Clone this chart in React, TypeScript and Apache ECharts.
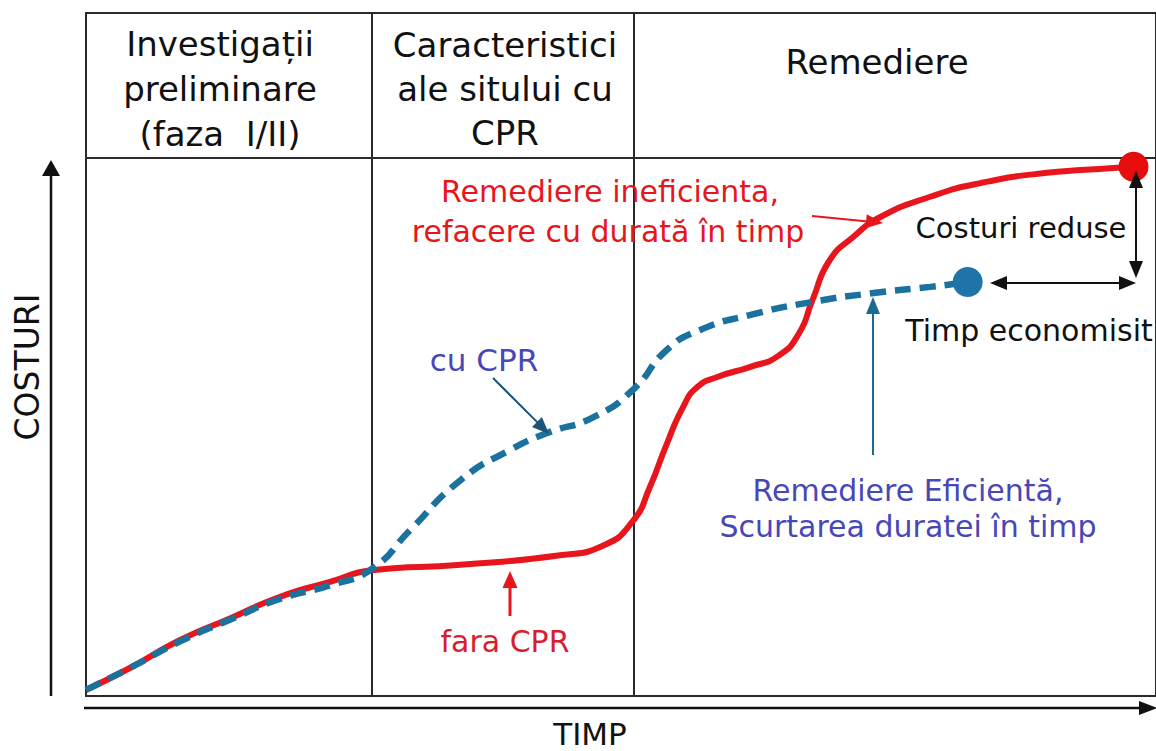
import React, { useEffect, useRef } from "react";
import * as echarts from "echarts";

// Time (x) and cost (y) in abstract units: x 0..100 spans the framed area, y 0..100 spans it vertically
const phaseBounds = [26.7, 51.2];
const headerLevel = 78.8;

const redX = [0, 4.1, 8.8, 13.5, 18.1, 22.8, 26.7, 35.0, 44.3, 48.3, 51.1, 52.7, 54.3, 55.8, 57.1, 59.0, 62.1, 64.7, 66.6, 67.9, 69.5, 71.7, 74.2, 78.9, 83.6, 89.8, 96.0, 97.9];
const redY = [0.9, 4.1, 8.2, 11.4, 14.5, 16.7, 18.4, 19.2, 20.6, 22.0, 25.6, 30.6, 37.0, 42.3, 45.2, 46.7, 48.2, 49.8, 53.0, 58.0, 63.8, 67.2, 70.1, 73.1, 75.1, 76.6, 77.3, 77.5];

const blueX = [0, 4.1, 8.8, 13.5, 18.1, 22.8, 26.7, 30.3, 35.0, 39.6, 43.1, 47.4, 51.1, 54.3, 57.4, 62.1, 67.9, 73.6, 78.9, 82.4];
const blueY = [0.9, 4.1, 8.0, 11.2, 14.2, 16.2, 18.6, 24.3, 31.6, 36.0, 38.5, 40.8, 44.8, 50.7, 53.6, 55.8, 57.7, 59.0, 59.9, 60.6];

const headerLabels = [
  ["Investigații", "preliminare", "(faza  I/II)"],
  ["Caracteristici", "ale sitului cu", "CPR"],
  ["Remediere"],
];

const FONT = "'DejaVu Sans', sans-serif";
const RED = "#e8161c";
const BLUE = "#1b729f";
const TXT_BLUE = "#4747b8";

function txt(text: string, x: number, y: number, size: number, fill: string, extra: any = {}) {
  return {
    type: "text",
    x,
    y,
    z: 50,
    style: {
      text,
      fill,
      fontSize: size,
      fontFamily: FONT,
      textAlign: "center",
      textVerticalAlign: "middle",
    },
    ...extra,
  };
}

function head(x1: number, y1: number, x2: number, y2: number, color: string, len: number, w: number) {
  const dx = x2 - x1;
  const dy = y2 - y1;
  const d = Math.sqrt(dx * dx + dy * dy);
  const ux = dx / d;
  const uy = dy / d;
  const bx = x2 - ux * len;
  const by = y2 - uy * len;
  const px = -uy * (w / 2);
  const py = ux * (w / 2);
  return {
    type: "polygon",
    z: 60,
    shape: { points: [[x2, y2], [bx + px, by + py], [bx - px, by - py]] },
    style: { fill: color },
  };
}

function arrow(x1: number, y1: number, x2: number, y2: number, color: string, lw: number, len: number, w: number, both = false) {
  const dx = x2 - x1;
  const dy = y2 - y1;
  const d = Math.sqrt(dx * dx + dy * dy);
  const ux = dx / d;
  const uy = dy / d;
  const sx = both ? x1 + ux * (len - 2) : x1;
  const sy = both ? y1 + uy * (len - 2) : y1;
  const ex = x2 - ux * (len - 2);
  const ey = y2 - uy * (len - 2);
  const els: any[] = [
    {
      type: "line",
      z: 59,
      shape: { x1: sx, y1: sy, x2: ex, y2: ey },
      style: { stroke: color, lineWidth: lw },
    },
    head(x1, y1, x2, y2, color, len, w),
  ];
  if (both) els.push(head(x2, y2, x1, y1, color, len, w));
  return els;
}

export default function App() {
  const ref = useRef<HTMLDivElement>(null);

  useEffect(() => {
    if (!ref.current) return;
    const chart = echarts.init(ref.current, undefined, { renderer: "svg" });

    const redData = redX.map((x, i) => [x, redY[i]]);
    const blueData = blueX.map((x, i) => [x, blueY[i]]);

    const headerCenters = [220, 505, 877];
    const headerLineY = [[44, 89, 134], [45, 89, 133], [62]];
    const graphics: any[] = [];
    headerLabels.forEach((lines, c) => {
      lines.forEach((l, k) => {
        graphics.push(txt(l, headerCenters[c], headerLineY[c][k], 34, "#111"));
      });
    });

    graphics.push(
      txt("Remediere ineficienta,", 610, 191, 30, RED),
      txt("refacere cu durată în timp", 608, 231, 30, RED),
      txt("Costuri reduse", 1021, 228, 29, "#111"),
      txt("Timp economisit", 1029, 330, 30, "#111"),
      txt("cu CPR", 484, 360, 31, TXT_BLUE),
      txt("Remediere Eficientă,", 908, 490, 30, TXT_BLUE),
      txt("Scurtarea duratei în timp", 908, 526, 30, TXT_BLUE),
      txt("fara CPR", 505, 641, 30, "#d81e2e"),
      txt("TIMP", 590, 734, 31, "#111"),
      txt("COSTURI", 27, 367, 33, "#111", { rotation: Math.PI / 2 }),
      ...arrow(812, 216, 883, 223, RED, 2, 17, 14),
      ...arrow(493, 378, 549, 434, "#1a5577", 2, 17, 14),
      ...arrow(873, 455, 873, 297, "#1a6a94", 2, 17, 14),
      ...arrow(510, 616, 510, 571, RED, 3, 17, 15),
      ...arrow(1136, 171, 1136, 278, "#111", 2, 17, 14, true),
      ...arrow(990, 283, 1136, 283, "#111", 2, 17, 14, true),
      ...arrow(51, 696, 51, 160, "#111", 2.5, 16, 18),
      ...arrow(84, 708, 1157, 708, "#111", 2.5, 18, 14)
    );

    chart.setOption({
      animation: false,
      backgroundColor: "#ffffff",
      grid: {
        left: 86,
        top: 13,
        right: -3,
        bottom: 55,
        show: true,
        borderColor: "#2a2a2a",
        borderWidth: 2,
        backgroundColor: "transparent",
      },
      xAxis: {
        type: "value",
        min: 0,
        max: 100,
        show: false,
      },
      yAxis: {
        type: "value",
        min: 0,
        max: 100,
        show: false,
      },
      series: [
        {
          type: "line",
          data: [],
          silent: true,
          markLine: {
            silent: true,
            symbol: "none",
            label: { show: false },
            lineStyle: { color: "#2a2a2a", width: 2, type: "solid" },
            data: [
              ...phaseBounds.map((v) => ({ xAxis: v })),
              { yAxis: headerLevel },
            ],
          },
        },
        {
          type: "line",
          name: "fara CPR",
          data: redData,
          smooth: 0.55,
          symbol: "none",
          lineStyle: { color: RED, width: 6 },
          z: 5,
        },
        {
          type: "line",
          name: "cu CPR",
          data: blueData,
          smooth: 0.55,
          symbol: "none",
          lineStyle: { color: BLUE, width: 6.5, type: [16, 9], cap: "butt" },
          z: 6,
        },
        {
          type: "scatter",
          data: [redData[redData.length - 1]],
          symbol: "circle",
          symbolSize: 30,
          itemStyle: { color: "#e50d0d", opacity: 1 },
          z: 7,
        },
        {
          type: "scatter",
          data: [blueData[blueData.length - 1]],
          symbol: "circle",
          symbolSize: 30,
          itemStyle: { color: "#1f74a8", opacity: 1 },
          z: 7,
        },
      ],
      graphic: graphics,
    });

    return () => chart.dispose();
  }, []);

  return (
    <div
      ref={ref}
      style={{ position: "absolute", left: 0, top: 0, width: 1156, height: 751, background: "#fff" }}
    />
  );
}
